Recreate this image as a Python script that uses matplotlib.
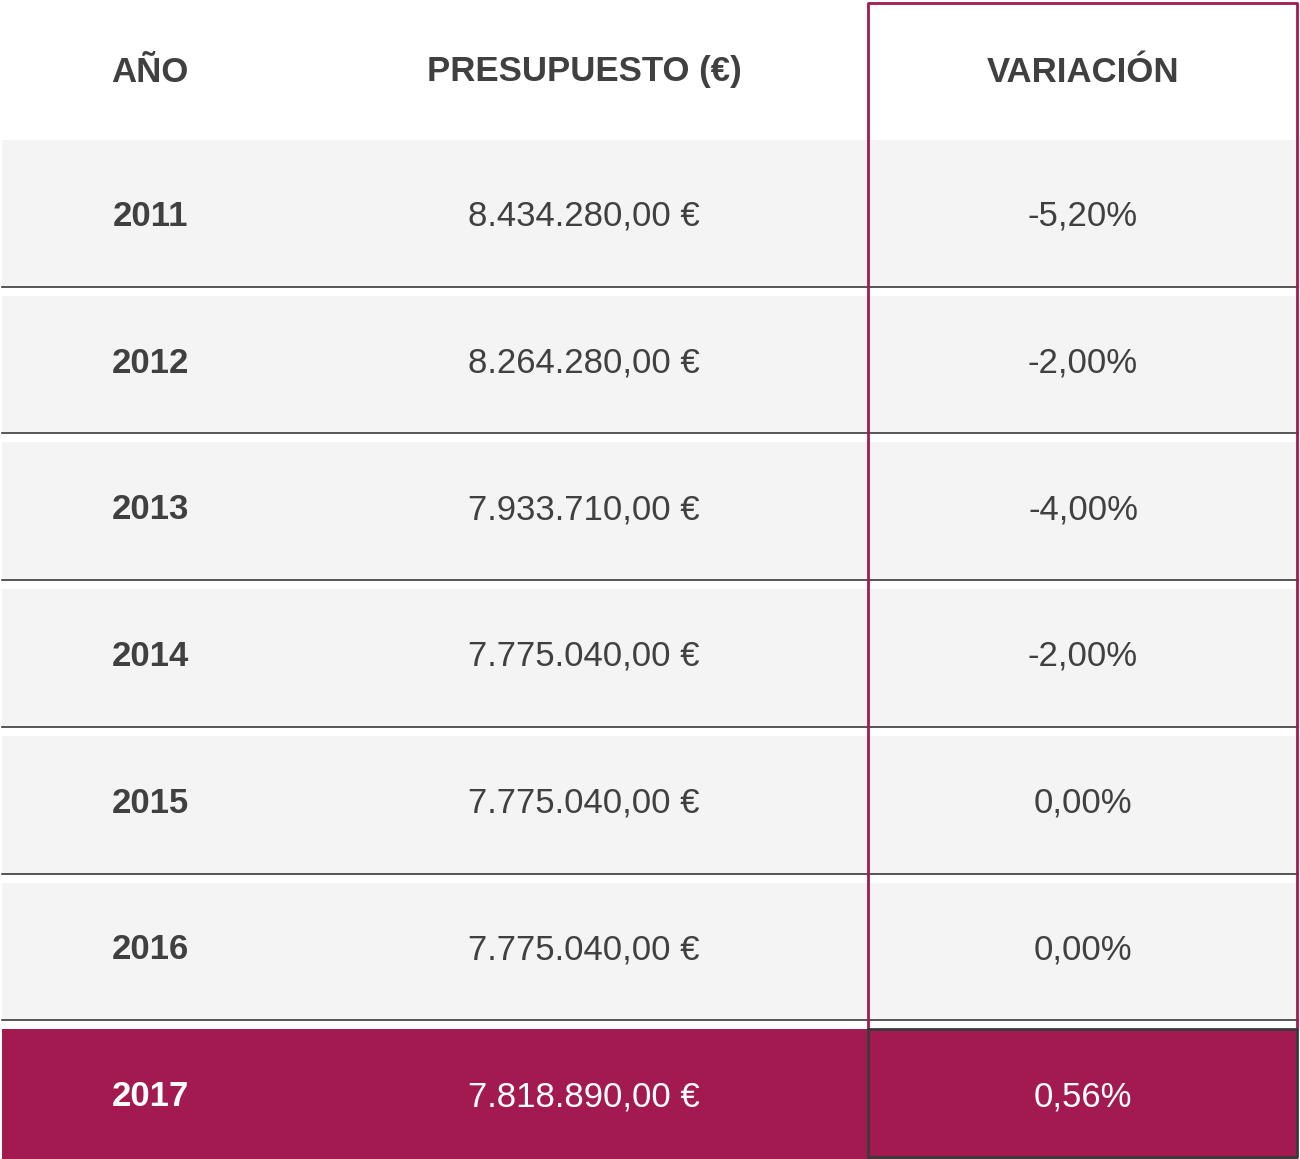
import matplotlib
matplotlib.use("Agg")
import matplotlib.pyplot as plt
from matplotlib.patches import Rectangle

headers = ["AÑO", "PRESUPUESTO (€)", "VARIACIÓN"]
years = ["2011", "2012", "2013", "2014", "2015", "2016", "2017"]
budgets = ["8.434.280,00 €", "8.264.280,00 €", "7.933.710,00 €", "7.775.040,00 €",
           "7.775.040,00 €", "7.775.040,00 €", "7.818.890,00 €"]
variations = ["-5,20%", "-2,00%", "-4,00%", "-2,00%", "0,00%", "0,00%", "0,56%"]

W, H = 1300, 1159
fig = plt.figure(figsize=(W/100, H/100), dpi=100)
ax = fig.add_axes([0, 0, 1, 1])
ax.set_xlim(0, W); ax.set_ylim(H, 0); ax.axis("off")

crimson = "#A31A50"
txt = "#404040"
font = "Liberation Sans"
xs = [150, 584, 1083]
top0, rowh = 140, 146.7
fs = 25

for j, h in enumerate(headers):
    ax.text(xs[j], 72, h, ha="center", va="center", fontsize=fs, fontweight="bold",
            color=txt, family=font)

n = len(years)
for i in range(n):
    y0 = top0 + i*rowh
    last = i == n-1
    bg = crimson if last else "#F4F4F4"
    top = y0 if i == 0 else y0 + 9
    ax.add_patch(Rectangle((2, top), W-4, y0+rowh-top if not last else H-top, color=bg, lw=0, zorder=1))
    if not last:
        ax.plot([2, W-2], [y0+rowh, y0+rowh], color="#3a3a3a", lw=1.2, zorder=3)
    c = "white" if last else txt
    yc = y0 + rowh/2 + 3
    ax.text(xs[0], yc, years[i], ha="center", va="center", fontsize=fs, fontweight="bold", color=c, family=font, zorder=4)
    ax.text(xs[1], yc, budgets[i], ha="center", va="center", fontsize=fs, color=c, family=font, zorder=4)
    ax.text(xs[2], yc, variations[i], ha="center", va="center", fontsize=fs, color=c, family=font, zorder=4)

# variation column border
last_top = top0 + (n-1)*rowh + 9
ax.plot([868, 868, 1297, 1297], [last_top, 3, 3, last_top], color=crimson, lw=2, zorder=5)
ax.plot([868, 868, 1297, 1297, 868], [last_top, H-2, H-2, last_top, last_top], color="#3a3a3a", lw=2, zorder=5)

fig.savefig("out.png", dpi=100)
